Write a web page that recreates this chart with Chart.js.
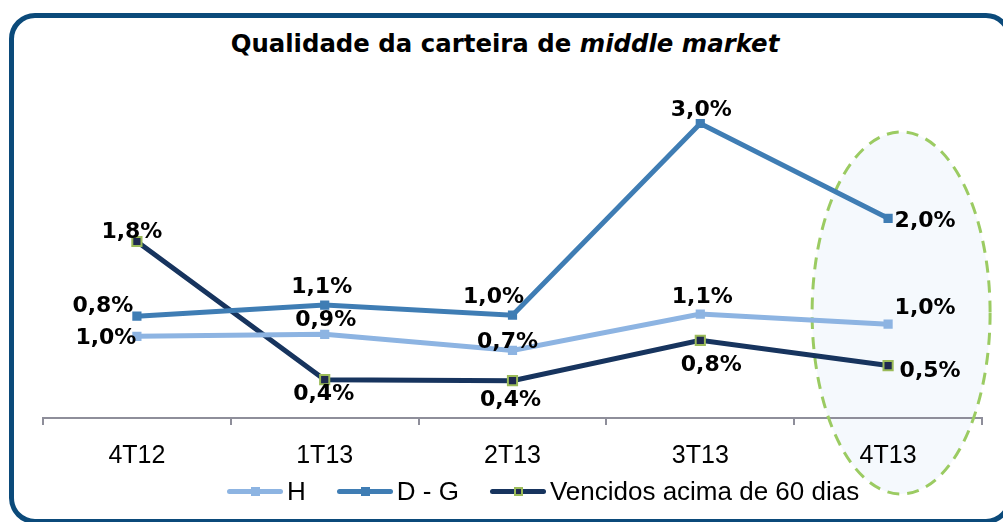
<!DOCTYPE html>
<html>
<head>
<meta charset="utf-8">
<script src="https://cdn.jsdelivr.net/npm/chart.js@4/dist/chart.umd.min.js"></script>
<style>
    body { margin: 0; width: 1003px; height: 522px; overflow: hidden; background: #fff; position: relative; }
    .frame { position: absolute; left: 9px; top: 13px; width: 1003px; height: 511px; box-sizing: border-box;
             border: 5px solid #0B4A7A; border-radius: 26px; }
    .title { position: absolute; left: 0; top: 30px; width: 1010px; text-align: center;
             font: bold 24.4px "DejaVu Sans", sans-serif; line-height: 28px; color: #000; }
    #chart { position: absolute; left: 0; top: 0; }
    .legend { position: absolute; left: 227px; top: 476px; display: flex; align-items: center;
              font: 26px "Liberation Sans", Arial, sans-serif; color: #000; }
    .item { display: flex; align-items: center; margin-right: 31px; }
    .swatch { position: relative; width: 56px; height: 5px; border-radius: 3px; margin-right: 4px; }
    .swatch span { position: absolute; left: 24px; top: -2px; width: 9px; height: 9px; box-sizing: border-box; }
</style>
</head>
<body>
<div class="frame"></div>
<div class="title">Qualidade da carteira de <i>middle market</i></div>
<canvas id="chart" width="1003" height="522"></canvas>
<div class="legend" id="legend"></div>
<script>
// Categories and series (plotted level)
const quarters = ['4T12', '1T13', '2T13', '3T13', '4T13'];
const seriesNames = ['H', 'D - G', 'Vencidos acima de 60 dias'];
const hValues = [0.81, 0.83, 0.67, 1.03, 0.93];
const dgValues = [1.01, 1.12, 1.02, 2.92, 1.98];
const vencValues = [1.75, 0.38, 0.37, 0.77, 0.52];

// Printed labels
const hLabels = ['1,0%', '0,9%', '0,7%', '1,1%', '1,0%'];
const dgLabels = ['0,8%', '1,1%', '1,0%', '3,0%', '2,0%'];
const vencLabels = ['1,8%', '0,4%', '0,4%', '0,8%', '0,5%'];

const colors = ['#8DB4E2', '#3F7DB4', '#17345E'];

// where each label sits relative to its point
const labelOffsets = [
    [[-31, 2], [1, -14], [-5, -8], [2, -17], [37, -16]],
    [[-34, -10], [-3, -18], [-19, -18], [1, -13], [37, 3]],
    [[-5, -9], [-1, 15], [-2, 20], [11, 25], [42, 6]]
];

const allLabels = [hLabels, dgLabels, vencLabels];

function ellipsePath(chart) {
    const ctx = chart.ctx;
    const x = chart.scales.x.getPixelForValue(4) + 13;
    ctx.beginPath();
    ctx.ellipse(x, 313, 89, 181, 0, 0, Math.PI * 2);
}

const highlightPlugin = {
    id: 'highlight',
    beforeDraw(chart) {
        const ctx = chart.ctx;
        ctx.save();
        ellipsePath(chart);
        ctx.fillStyle = 'rgba(222, 234, 247, 0.3)';
        ctx.fill();
        ctx.restore();
    },
    beforeDatasetsDraw(chart) {
        const ctx = chart.ctx;
        ctx.save();
        ellipsePath(chart);
        ctx.setLineDash([12, 8]);
        ctx.lineWidth = 3;
        ctx.strokeStyle = '#9BCB62';
        ctx.stroke();
        ctx.restore();
    }
};

const labelPlugin = {
    id: 'pointLabels',
    afterDatasetsDraw(chart) {
        const ctx = chart.ctx;
        ctx.save();
        ctx.font = 'bold 22px "DejaVu Sans", sans-serif';
        ctx.fillStyle = '#000';
        ctx.textAlign = 'center';
        ctx.textBaseline = 'middle';
        chart.data.datasets.forEach((ds, d) => {
            chart.getDatasetMeta(d).data.forEach((pt, i) => {
                const off = labelOffsets[d][i];
                ctx.fillText(allLabels[d][i], pt.x + off[0], pt.y + off[1]);
            });
        });
        ctx.restore();
    }
};

function makeDataset(name, values, color, i) {
    const venc = i === 2;
    return {
        label: name,
        data: values,
        borderColor: color,
        borderWidth: 5,
        tension: 0,
        pointStyle: 'rect',
        pointRadius: 6.5,
        pointBackgroundColor: venc ? '#1F2A50' : color,
        pointBorderColor: venc ? '#9BBB59' : color,
        pointBorderWidth: venc ? 2 : 0
    };
}

const ctx = document.getElementById('chart').getContext('2d');
new Chart(ctx, {
    type: 'line',
    data: {
        labels: quarters,
        datasets: [
            makeDataset(seriesNames[0], hValues, colors[0], 0),
            makeDataset(seriesNames[1], dgValues, colors[1], 1),
            makeDataset(seriesNames[2], vencValues, colors[2], 2)
        ]
    },
    options: {
        responsive: false,
        animation: false,
        layout: { padding: { top: 65, left: 43, right: 21, bottom: 35 } },
        plugins: {
            legend: { display: false },
            title: { display: false },
            tooltip: { enabled: false }
        },
        scales: {
            x: {
                offset: true,
                grid: {
                    offset: true,
                    drawOnChartArea: false,
                    drawTicks: true,
                    tickLength: 7,
                    color: '#8E8E9A',
                    lineWidth: 2
                },
                border: { display: true, color: '#8E8E9A', width: 2 },
                ticks: {
                    color: '#000',
                    padding: 16,
                    font: { family: '"Liberation Sans", Arial, sans-serif', size: 25 }
                }
            },
            y: {
                display: false,
                min: 0,
                max: 3.5
            }
        }
    },
    plugins: [highlightPlugin, labelPlugin]
});

// Legend
const legend = document.getElementById('legend');
seriesNames.forEach((name, i) => {
    const venc = i === 2;
    const item = document.createElement('div');
    item.className = 'item';
    item.innerHTML = '<div class="swatch" style="background:' + colors[i] + '"><span style="background:' +
        (venc ? '#1F2A50' : colors[i]) + ';border:' + (venc ? '2px solid #9BBB59' : 'none') + '"></span></div>' + name;
    legend.appendChild(item);
});
</script>
</body>
</html>
